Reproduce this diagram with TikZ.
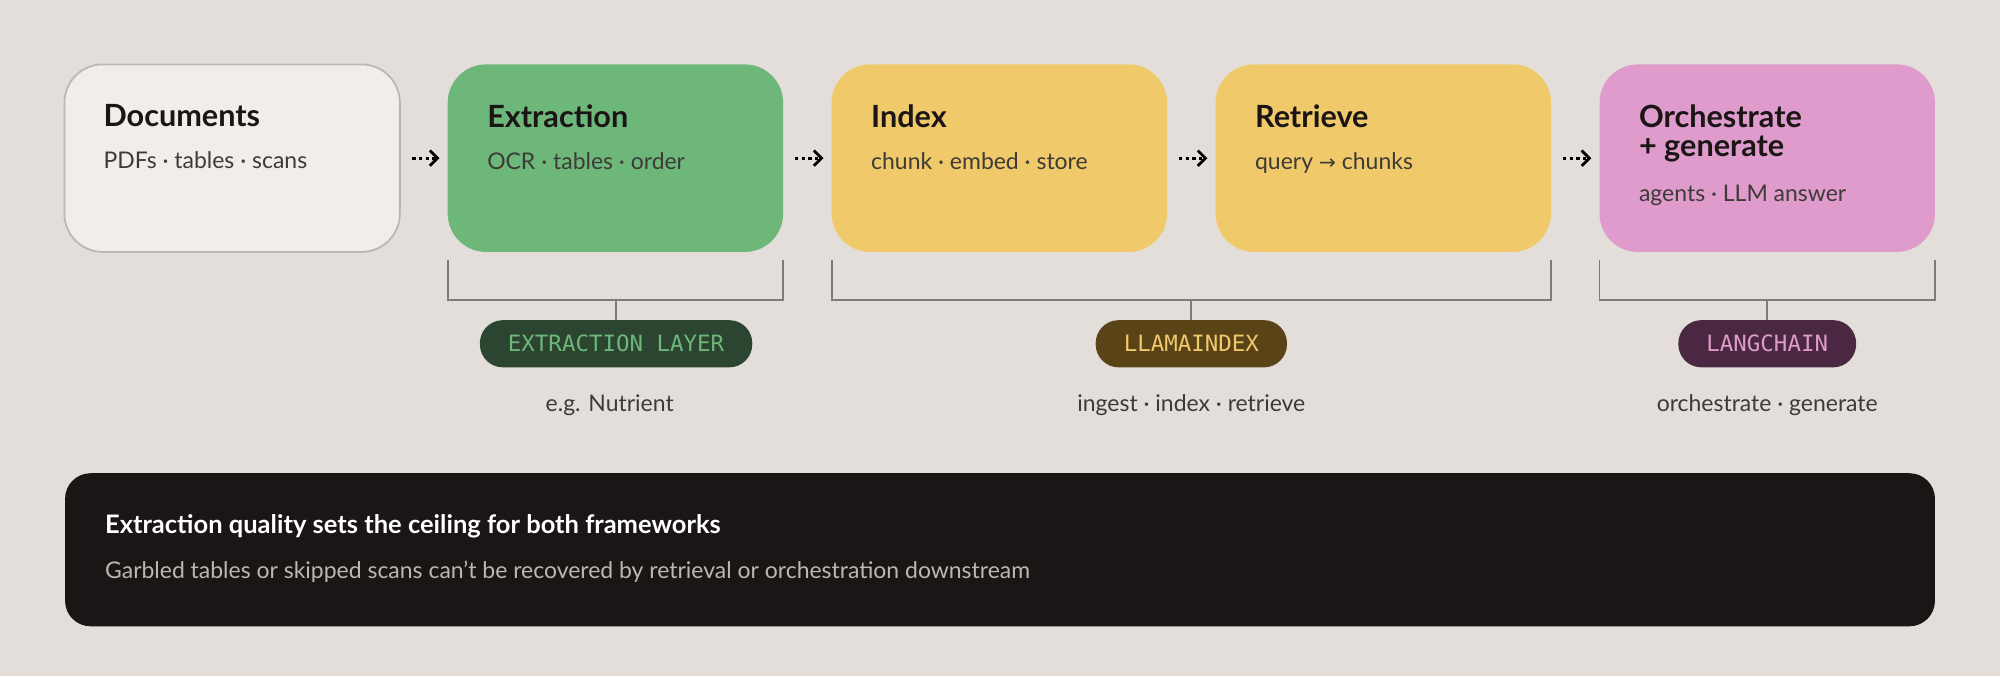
\documentclass[tikz,border=0pt]{standalone}
\usepackage{fontspec}
\setmainfont{Lato}
\setmonofont{DejaVu Sans Mono}
\newfontfamily\symfont{DejaVu Sans}
\usetikzlibrary{arrows.meta,positioning}
\definecolor{bgc}{HTML}{E3DEDA}
\definecolor{docfill}{HTML}{F1EEEA}
\definecolor{docline}{HTML}{BDB7B1}
\definecolor{greenc}{HTML}{6DB77B}
\definecolor{yellowc}{HTML}{F0C96A}
\definecolor{pinkc}{HTML}{DE9BCB}
\definecolor{greendark}{HTML}{2B4530}
\definecolor{yellowdark}{HTML}{5A4316}
\definecolor{pinkdark}{HTML}{4A2841}
\definecolor{inkc}{HTML}{1B1515}
\definecolor{subc}{HTML}{3E3A36}
\definecolor{brackc}{HTML}{807A74}
\tikzset{
  stage/.style={rounded corners=15pt, minimum width=131.5pt, minimum height=73.5pt, draw=none},
  title/.style={anchor=north west, font=\fontsize{12}{13}\selectfont\bfseries, text=inkc, align=left, inner sep=0pt},
  sub/.style={anchor=north west, font=\fontsize{9}{10}\selectfont, text=subc, inner sep=0pt},
  pill/.style={rounded corners=9pt, minimum height=18.5pt, inner xsep=11pt, font=\ttfamily\fontsize{8.8}{10}\selectfont},
  flow/.style={line width=1.3pt, dash pattern=on 1.3pt off 1.3pt, -{Straight Barb[length=3pt,width=6pt,line width=1.1pt]}},
  brack/.style={draw=brackc, line width=0.7pt},
  note/.style={font=\fontsize{9}{10}\selectfont, text=subc}
}
\begin{document}
\begin{tikzpicture}[x=0.5pt,y=-0.5pt]
\fill[bgc] (0,0) rectangle (1568,530);
\useasboundingbox (0,0) rectangle (1568,530);

% stage boxes
\node[stage, fill=docfill, draw=docline, line width=0.7pt] (doc) at (182,124) {};
\node[stage, fill=greenc] (ext) at (482.5,124) {};
\node[stage, fill=yellowc] (idx) at (783.5,124) {};
\node[stage, fill=yellowc] (ret) at (1084.5,124) {};
\node[stage, fill=pinkc] (orc) at (1385.5,124) {};

\node[title] (doct) at ([xshift=15.5pt,yshift=-16pt]doc.north west) {Documents};
\node[sub, below=9pt of doct.south west, anchor=north west] (docs) {PDFs · tables · scans};
\node[title] (extt) at ([xshift=15.5pt,yshift=-16pt]ext.north west) {Extraction};
\node[sub, below=9pt of extt.south west, anchor=north west] (exts) {OCR · tables · order};
\node[title] (idxt) at ([xshift=15.5pt,yshift=-16pt]idx.north west) {Index};
\node[sub, below=9pt of idxt.south west, anchor=north west] (idxs) {chunk · embed · store};
\node[title] (rett) at ([xshift=15.5pt,yshift=-16pt]ret.north west) {Retrieve};
\node[sub, below=9pt of rett.south west, anchor=north west] (rets) {query {\symfont\fontsize{8}{10}\selectfont →} chunks};
\node[title] (orct) at ([xshift=15.5pt,yshift=-16pt]orc.north west) {Orchestrate\\[-2pt]+ generate};
\node[sub, below=9pt of orct.south west, anchor=north west] (orcs) {agents · LLM answer};

% flow arrows
\foreach \a/\b in {doc/ext, ext/idx, idx/ret, ret/orc} {
  \draw[flow] ([xshift=4.5pt]\a.east) -- ([xshift=-3pt]\b.west);
}

% brackets
\draw[brack] (351,204) |- (614,235) -- (614,204);
\draw[brack] (652,204) |- (1216,235) -- (1216,204);
\draw[brack] (1254,204) |- (1517,235) -- (1517,204);

% framework pills
\node[pill, fill=greendark, text=greenc] (pext) at (483,269.5) {EXTRACTION LAYER};
\node[pill, fill=yellowdark, text=yellowc] (pllm) at (934,269.5) {LLAMAINDEX};
\node[pill, fill=pinkdark, text=pinkc] (plc) at (1385.5,269.5) {LANGCHAIN};
\draw[brack] (pext.north) -- ++(0,-16);
\draw[brack] (pllm.north) -- ++(0,-16);
\draw[brack] (plc.north) -- ++(0,-16);

\node[note] (next) at (478,318) {e.g. Nutrient};
\node[note] (nllm) at (934,318) {ingest · index · retrieve};
\node[note] (nlc) at (1385.5,318) {orchestrate · generate};

% ceiling note
\node[rounded corners=10pt, fill=inkc, minimum width=733pt, minimum height=60pt] (ceil) at (784,431) {};
\node[anchor=west, inner sep=0pt, text=white, font=\fontsize{10}{11}\selectfont\bfseries] (ceilt) at (82,413) {Extraction quality sets the ceiling for both frameworks};
\node[anchor=west, inner sep=0pt, text=docline, font=\fontsize{9}{10}\selectfont] (ceils) at (82,448) {Garbled tables or skipped scans can’t be recovered by retrieval or orchestration downstream};
\end{tikzpicture}
\end{document}
